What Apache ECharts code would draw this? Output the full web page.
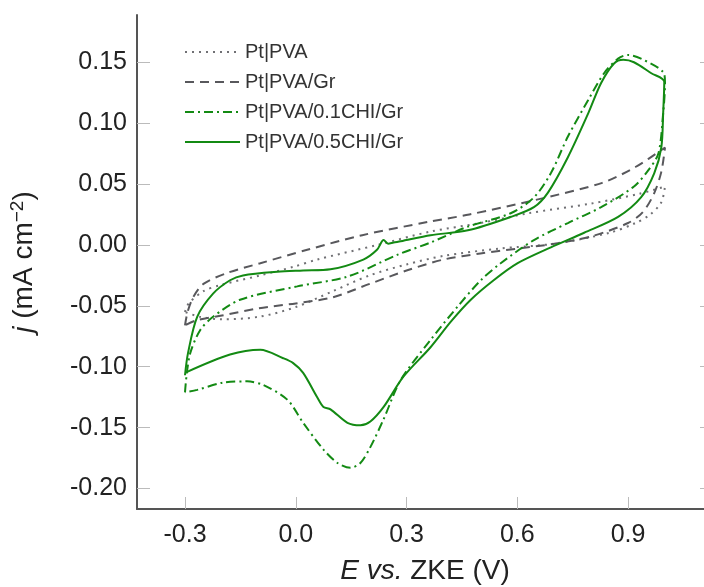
<!DOCTYPE html>
<html>
<head>
<meta charset="utf-8">
<script src="https://cdn.jsdelivr.net/npm/echarts@6/dist/echarts.min.js"></script>
<style>
html,body{margin:0;padding:0;background:#fff;}
#chart{width:704px;height:587px;}
</style>
</head>
<body>
<div id="chart"></div>
<script>
// ---- Data (E in V vs ZKE, j in mA cm^-2) ----
var seriesNames = ['Pt|PVA', 'Pt|PVA/Gr', 'Pt|PVA/0.1CHI/Gr', 'Pt|PVA/0.5CHI/Gr'];
var xTicks = [-0.3, 0.0, 0.3, 0.6, 0.9];
var yTicks = [-0.20, -0.15, -0.10, -0.05, 0.00, 0.05, 0.10, 0.15];

var pvaE = [-0.300, -0.290, -0.250, -0.205, -0.096, -0.007, 0.058, 0.221, 0.365, 0.500, 0.630, 0.800, 0.930, 1.000,
            0.990, 0.960, 0.920, 0.850, 0.700, 0.550, 0.400, 0.300, 0.200, 0.100, 0.000, -0.100, -0.200, -0.260, -0.300];
var pvaJ = [-0.055, -0.048, -0.038, -0.033, -0.025, -0.018, -0.012, 0.000, 0.011, 0.018, 0.026, 0.034, 0.042, 0.048,
            0.035, 0.025, 0.018, 0.010, 0.001, -0.003, -0.009, -0.016, -0.025, -0.038, -0.051, -0.059, -0.061, -0.059, -0.055];

var grE = [-0.300, -0.293, -0.278, -0.250, -0.186, -0.096, 0.031, 0.180, 0.360, 0.470, 0.650, 0.830, 0.920, 1.000,
           0.990, 0.970, 0.940, 0.900, 0.800, 0.700, 0.600, 0.500, 0.400, 0.300, 0.200, 0.100, 0.000, -0.100, -0.200, -0.270, -0.300];
var grJ = [-0.066, -0.055, -0.043, -0.032, -0.023, -0.015, -0.004, 0.008, 0.019, 0.025, 0.037, 0.051, 0.064, 0.080,
           0.060, 0.042, 0.027, 0.018, 0.007, 0.001, -0.003, -0.007, -0.012, -0.021, -0.032, -0.043, -0.048, -0.052, -0.058, -0.062, -0.066];

var chi01E = [-0.300, -0.295, -0.285, -0.259, -0.224, -0.151, 0.004, 0.140, 0.276, 0.365, 0.466, 0.582, 0.645, 0.691, 0.737, 0.792, 0.835, 0.873, 0.900, 0.935, 0.995, 1.000,
              0.995, 0.982, 0.954, 0.916, 0.827, 0.737, 0.645, 0.555, 0.501, 0.440, 0.365, 0.284, 0.238, 0.202, 0.175, 0.148, 0.113, 0.075, 0.020, -0.023, -0.088, -0.132, -0.197, -0.267, -0.300];
var chi01J = [-0.121, -0.105, -0.088, -0.070, -0.059, -0.045, -0.034, -0.026, -0.008, 0.002, 0.015, 0.026, 0.039, 0.059, 0.089, 0.119, 0.141, 0.153, 0.156, 0.153, 0.142, 0.133,
              0.108, 0.075, 0.061, 0.048, 0.031, 0.018, 0.004, -0.015, -0.029, -0.050, -0.078, -0.111, -0.143, -0.166, -0.179, -0.183, -0.179, -0.168, -0.146, -0.127, -0.115, -0.112, -0.113, -0.119, -0.121];

var chi05E = [-0.300, -0.292, -0.267, -0.224, -0.178, -0.143, -0.050, 0.020, 0.094, 0.183, 0.220, 0.238, 0.250, 0.265, 0.284, 0.365, 0.466, 0.582, 0.645, 0.683, 0.737, 0.792, 0.827, 0.862, 0.887, 0.916, 0.963, 0.998,
              0.995, 0.990, 0.971, 0.935, 0.873, 0.781, 0.691, 0.601, 0.536, 0.474, 0.420, 0.365, 0.292, 0.238, 0.202, 0.175, 0.140, 0.094, 0.075, 0.058, 0.020, -0.007, -0.034, -0.096, -0.178, -0.300];
var chi05J = [-0.107, -0.089, -0.059, -0.040, -0.029, -0.025, -0.022, -0.021, -0.020, -0.012, -0.004, 0.004, 0.001, 0.002, 0.003, 0.008, 0.012, 0.023, 0.031, 0.043, 0.072, 0.108, 0.133, 0.149, 0.152, 0.150, 0.141, 0.134,
              0.108, 0.080, 0.059, 0.039, 0.023, 0.010, -0.002, -0.015, -0.029, -0.045, -0.063, -0.084, -0.108, -0.133, -0.145, -0.148, -0.146, -0.135, -0.133, -0.125, -0.105, -0.097, -0.093, -0.086, -0.090, -0.105];

function zip(a, b) { return a.map(function (v, i) { return [v, b[i]]; }); }

var FONT = 'Liberation Sans';
var chart = echarts.init(document.getElementById('chart'), null, { renderer: 'canvas' });

function mk(name, e, j, color, type, smooth) {
  return {
    name: name, type: 'line', data: zip(e, j), showSymbol: false, symbol: 'none',
    smooth: smooth, smoothMonotone: null,
    lineStyle: { color: color, width: 2, type: type },
    itemStyle: { color: color }, animation: false
  };
}

var option = {
  animation: false,
  grid: { left: 137, width: 576, top: 15, height: 494, containLabel: false, outerBoundsMode: 'none' },
  legend: {
    orient: 'vertical', left: 179, top: 37,
    itemWidth: 55, itemHeight: 14, itemGap: 10,
    itemStyle: { opacity: 0 },
    textStyle: { fontFamily: FONT, fontSize: 20, color: '#333' },
    data: seriesNames
  },
  xAxis: [{
    type: 'value', min: -0.43, max: 1.13,
    name: '{i|E} {i|vs.} ZKE (V)', nameLocation: 'middle', nameGap: 48,
    nameTextStyle: { fontFamily: FONT, fontSize: 28, color: '#222', rich: { i: { fontFamily: FONT, fontSize: 28, fontStyle: 'italic', color: '#222' } } },
    axisLine: { show: true, onZero: false, lineStyle: { color: '#555', width: 2 } },
    axisTick: { show: true, inside: true, length: 12, customValues: xTicks, lineStyle: { color: '#bbb', width: 1 } },
    axisLabel: { customValues: xTicks, margin: 14, fontFamily: FONT, fontSize: 25, color: '#222', formatter: function (v) { return v.toFixed(1); } },
    splitLine: { show: false }
  }],
  yAxis: [{
    type: 'value', min: -0.2168, max: 0.1888,
    name: '{i|j} (mA cm{s|−2})', nameLocation: 'middle', nameGap: 96, nameRotate: 90,
    nameTextStyle: { fontFamily: FONT, fontSize: 28, color: '#222', rich: { i: { fontFamily: FONT, fontSize: 28, fontStyle: 'italic', color: '#222' }, s: { fontFamily: FONT, fontSize: 19, color: '#222', verticalAlign: 'top', padding: [0, 0, 14, 0] } } },
    axisLine: { show: true, onZero: false, lineStyle: { color: '#555', width: 2 } },
    axisTick: { show: true, inside: true, length: 13, customValues: yTicks, lineStyle: { color: '#bbb', width: 1 } },
    axisLabel: { customValues: yTicks, margin: 10, fontFamily: FONT, fontSize: 25, color: '#222', formatter: function (v) { return v.toFixed(2); } },
    splitLine: { show: false }
  }, {
    type: 'value', min: -0.2168, max: 0.1888, position: 'right',
    axisLine: { show: false, onZero: false },
    axisTick: { show: true, inside: true, length: 13, customValues: yTicks, lineStyle: { color: '#bbb', width: 1 } },
    axisLabel: { show: false },
    splitLine: { show: false }
  }],
  series: [
    mk(seriesNames[0], pvaE, pvaJ, '#707074', [2, 5], 0.3),
    mk(seriesNames[1], grE, grJ, '#58585c', [9, 6], 0.3),
    mk(seriesNames[2], chi01E, chi01J, '#138a13', [9, 4, 2, 4], 0.3),
    mk(seriesNames[3], chi05E, chi05J, '#138a13', 'solid', 0.3)
  ]
};
chart.setOption(option);
</script>
</body>
</html>
